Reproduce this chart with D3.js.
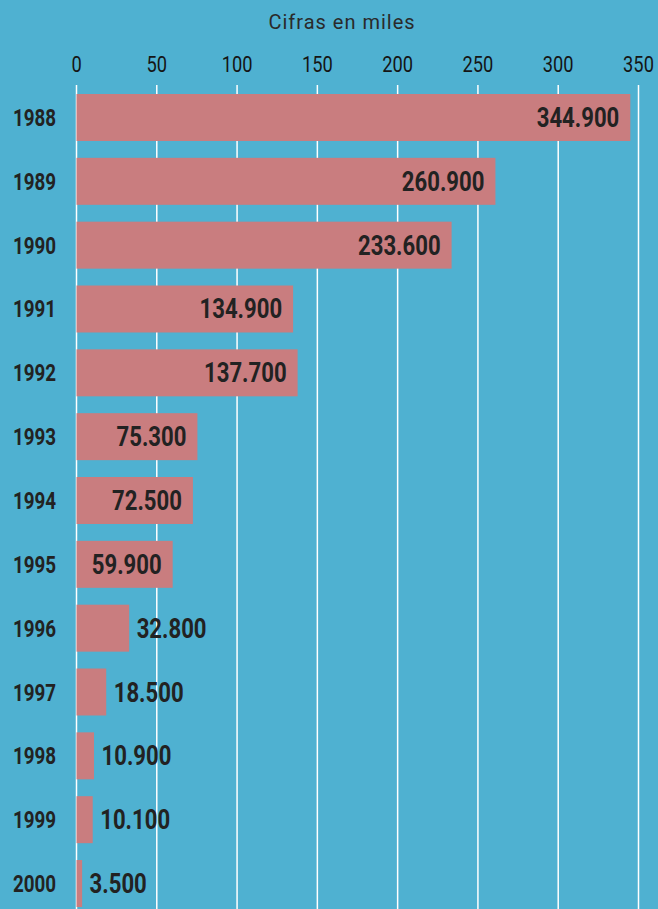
<!DOCTYPE html>
<html>
<head>
<meta charset="utf-8">
<script src="https://cdn.jsdelivr.net/npm/d3@7"></script>
<style>
  html, body { margin: 0; padding: 0; background: #4fb1d1; }
  svg { display: block; }
</style>
</head>
<body>
<script>
// datos
const years = ["1988", "1989", "1990", "1991", "1992", "1993", "1994", "1995", "1996", "1997", "1998", "1999", "2000"];
const values = [344.9, 260.9, 233.6, 134.9, 137.7, 75.3, 72.5, 59.9, 32.8, 18.5, 10.9, 10.1, 3.5];
const ticks = [0, 50, 100, 150, 200, 250, 300, 350];
const title = "Cifras en miles";

const width = 658, height = 909;
const font = "Roboto, 'Liberation Sans', sans-serif";

const svg = d3.select("body").append("svg")
    .attr("width", width)
    .attr("height", height);

svg.append("rect")
    .attr("width", width)
    .attr("height", height)
    .attr("fill", "#4fb1d1");

const x = d3.scaleLinear().domain([0, 350]).range([76.5, 638.5]);
const y = d3.scaleBand().domain(years).range([94, 907]).paddingInner(0.264).paddingOuter(0);

// titulo
svg.append("text")
    .attr("x", 342)
    .attr("y", 29)
    .attr("text-anchor", "middle")
    .style("font-family", font)
    .style("font-size", "20px")
    .style("letter-spacing", "1px")
    .style("fill", "#2a2a2a")
    .text(title);

// lineas de la grilla
svg.append("g")
    .selectAll("line")
    .data(ticks)
    .join("line")
    .attr("x1", (d) => x(d))
    .attr("x2", (d) => x(d))
    .attr("y1", 85)
    .attr("y2", height)
    .attr("stroke", "#ffffff")
    .attr("stroke-width", 1.5);

// etiquetas del eje (tipografia estrecha)
svg.append("g")
    .selectAll("text")
    .data(ticks)
    .join("text")
    .attr("transform", (d) => `translate(${x(d)},72) scale(0.83,1)`)
    .attr("text-anchor", "middle")
    .style("font-family", font)
    .style("font-size", "22px")
    .style("fill", "#151515")
    .text((d) => d);

const data = years.map((yr, i) => ({ year: yr, value: values[i] }));

// barras
svg.append("g")
    .selectAll("rect")
    .data(data)
    .join("rect")
    .attr("x", x(0))
    .attr("y", (d) => y(d.year))
    .attr("width", (d) => x(d.value) - x(0))
    .attr("height", y.bandwidth())
    .attr("fill", "#c97d7f");

// años
svg.append("g")
    .selectAll("text")
    .data(data)
    .join("text")
    .attr("transform", (d) => `translate(56,${y(d.year) + y.bandwidth() / 2 + 8.5}) scale(0.8,1)`)
    .attr("text-anchor", "end")
    .style("font-family", font)
    .style("font-weight", "bold")
    .style("font-size", "23.5px")
    .style("fill", "#222")
    .text((d) => d.year);

// valores
const fmt = (v) => d3.format(".3f")(v);
svg.append("g")
    .selectAll("text")
    .data(data)
    .join("text")
    .attr("transform", (d) => {
        const px = d.value >= 50 ? x(d.value) - 11 : x(d.value) + 7.5;
        return `translate(${px},${y(d.year) + y.bandwidth() / 2 + 9.5}) scale(0.82,1)`;
    })
    .attr("text-anchor", (d) => d.value >= 50 ? "end" : "start")
    .style("font-family", font)
    .style("font-weight", "bold")
    .style("font-size", "27px")
    .style("fill", "#222")
    .text((d) => fmt(d.value));
</script>
</body>
</html>
